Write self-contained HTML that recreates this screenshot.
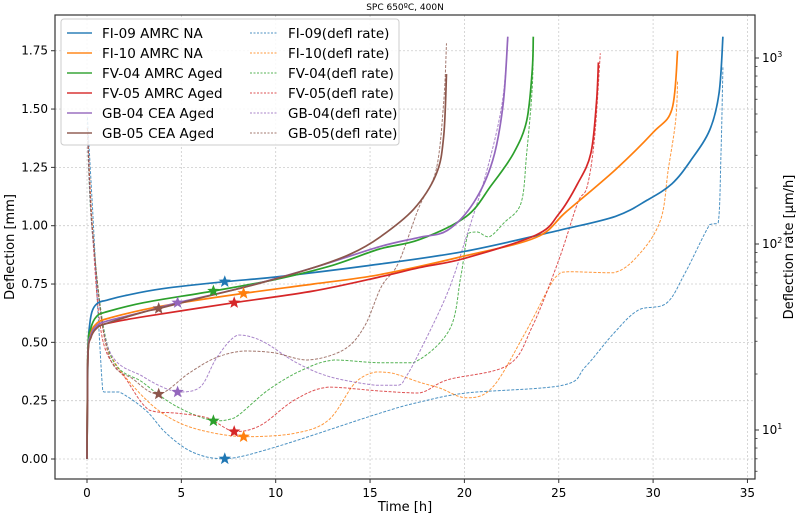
<!DOCTYPE html>
<html><head><meta charset="utf-8"><style>
html,body{margin:0;padding:0;background:#fff;}
svg{display:block;font-family:"DejaVu Sans","Liberation Sans",sans-serif;}
</style></head><body>
<svg id="chart" width="803" height="516" viewBox="0 0 803 516" xmlns="http://www.w3.org/2000/svg">
<text x="405" y="10" font-size="9" text-anchor="middle" fill="#000">SPC 650ºC, 400N</text>
<g id="grid"></g><g id="axes"></g><g id="series"></g><g id="stars"></g>
<rect x="55" y="15" width="700" height="464" fill="none" stroke="#333" stroke-width="1.2"/>
<text x="405" y="511" font-size="13" text-anchor="middle">Time [h]</text>
<text x="0" y="0" font-size="13" text-anchor="middle" transform="translate(14,247) rotate(-90)">Deflection [mm]</text>
<text x="0" y="0" font-size="13" text-anchor="middle" transform="translate(793,247) rotate(-90)">Deflection rate [µm/h]</text>
<g id="legend"></g>
</svg>
<script>
const NS="http://www.w3.org/2000/svg";
const xTicks=[0,5,10,15,20,25,30,35];
const yTicks=[0,0.25,0.5,0.75,1.0,1.25,1.5,1.75];
const yTickLabels=["0.00","0.25","0.50","0.75","1.00","1.25","1.50","1.75"];
const rateMajor=[10,100,1000];
const seriesNames=["FI-09 AMRC NA","FI-10 AMRC NA","FV-04 AMRC Aged","FV-05 AMRC Aged","GB-04 CEA Aged","GB-05 CEA Aged"];
const rateNames=["FI-09(defl rate)","FI-10(defl rate)","FV-04(defl rate)","FV-05(defl rate)","GB-04(defl rate)","GB-05(defl rate)"];
const colors=["#1f77b4","#ff7f0e","#2ca02c","#d62728","#9467bd","#8c564b"];
const defFI09=[[0,0],[0.05,0.45],[0.15,0.58],[0.3,0.64],[0.6,0.67],[1,0.68],[2,0.70],[4,0.73],[7.3,0.76],[10,0.78],[15,0.83],[20,0.89],[25,0.98],[28,1.04],[29.7,1.11],[31,1.18],[32,1.28],[33,1.41],[33.5,1.57],[33.7,1.81]];
const defFI10=[[0,0],[0.05,0.45],[0.2,0.54],[0.5,0.58],[1,0.60],[3,0.64],[5,0.67],[8.3,0.71],[12,0.75],[15.5,0.79],[20,0.87],[23.8,0.95],[25.4,1.06],[28,1.24],[30,1.40],[31,1.50],[31.3,1.75]];
const defFV04=[[0,0],[0.05,0.47],[0.2,0.56],[0.5,0.61],[1,0.63],[3,0.67],[6.7,0.72],[10,0.77],[13,0.83],[15.5,0.90],[17.6,0.94],[20.1,1.04],[21.4,1.17],[22.6,1.31],[23.3,1.45],[23.6,1.67],[23.65,1.81]];
const defFV05=[[0,0],[0.05,0.44],[0.2,0.52],[0.5,0.56],[1,0.58],[3,0.61],[7.8,0.67],[12,0.72],[15.5,0.78],[17.6,0.82],[20,0.86],[23.8,0.96],[25,1.05],[26,1.18],[26.7,1.31],[27,1.53],[27.1,1.70]];
const defGB04=[[0,0],[0.05,0.45],[0.2,0.53],[0.5,0.57],[1,0.59],[3,0.63],[4.8,0.67],[8,0.73],[12,0.82],[15.5,0.91],[17.6,0.95],[19.1,0.98],[20.5,1.10],[21.5,1.28],[22.05,1.52],[22.3,1.81]];
const defGB05=[[0,0],[0.05,0.44],[0.2,0.52],[0.5,0.56],[1,0.58],[3,0.63],[3.8,0.645],[6,0.69],[9,0.75],[12,0.82],[14,0.88],[15.5,0.95],[17.3,1.07],[18.5,1.22],[18.9,1.38],[19.05,1.65]];
const rateFI09=[[0.02,480],[0.3,150],[0.6,40],[0.8,18],[0.9,16],[1.7,16],[3.1,12.8],[4.2,9.6],[5.6,7.6],[7.3,7.0],[10,8.1],[15.5,12.3],[17.6,14.1],[20.1,15.8],[25.2,17.4],[26.4,21.8],[27.9,33],[29.2,44],[30.7,48],[31.7,70],[33,127],[33.45,130],[33.6,308],[33.7,890]];
const rateFI10=[[0.02,420],[0.3,120],[0.85,34.5],[1.5,22.9],[3,15],[4.4,11.6],[6,10],[8.3,9.2],[11,9.6],[12.8,11.3],[14.2,17.9],[15.3,20.5],[16.2,20.2],[17.6,18.1],[18.7,16.8],[20.1,14.9],[21.5,17],[23.2,33],[24.8,66],[25.5,71],[27.9,70],[29.3,89],[30.4,135],[30.8,250],[31.2,464],[31.3,760]];
const rateFV04=[[0.02,400],[0.3,110],[1.2,26],[3,17.9],[4.8,13.3],[6.7,11.2],[7.8,11.6],[9.6,16.4],[11.4,21],[13.1,23.8],[15.4,23],[17.3,23],[19.2,34.5],[19.8,66],[20.2,114],[20.7,116],[21.3,109],[22.1,130],[23,166],[23.3,308],[23.6,700],[23.65,1290]];
const rateFV05=[[0.02,420],[0.3,110],[0.85,30],[2.1,18.6],[3.3,12.8],[4.8,12.3],[6.4,11.6],[7.8,9.8],[9.2,10.6],[11,14.5],[12.8,17],[15.5,16.2],[17.6,15.8],[19.1,18.6],[22.3,22.3],[23.6,36],[25,82],[26,166],[26.5,203],[26.9,374],[27.2,1060]];
const rateGB04=[[0.02,400],[0.3,110],[1.1,28],[3,19.3],[4.8,16],[6,17],[6.9,24.7],[8,32.4],[9.3,30],[11.1,23],[12.9,19.3],[15.3,17.4],[16.5,17.4],[16.9,19.3],[17.6,26],[19.1,54.5],[20.1,109],[21.2,250],[22,570],[22.3,1260]];
const rateGB05=[[0.02,420],[0.3,115],[1.1,26.3],[2.5,18.6],[3.8,15.6],[5.4,20.2],[6.8,24.4],[8.3,26.6],[9.9,26],[11.7,23.8],[13.6,27],[14.7,36],[15.6,59],[16.5,79],[17.6,158],[18.5,250],[18.9,570],[19.05,1200]];
const starDefl=[[7.3,0.76],[8.3,0.71],[6.7,0.72],[7.8,0.67],[4.8,0.67],[3.8,0.645]];
const starRate=[[7.3,7.0],[8.3,9.2],[6.7,11.2],[7.8,9.8],[4.8,16.0],[3.8,15.6]];

const X=t=>87+18.87*t;
const Y=d=>459-233.3*d;
const YR=r=>430-186*Math.log10(r/10);
function mk(tag,attrs,parent){const e=document.createElementNS(NS,tag);for(const k in attrs)e.setAttribute(k,attrs[k]);parent.appendChild(e);return e;}
function smooth(pts){
  let d='M'+pts[0][0].toFixed(1)+','+pts[0][1].toFixed(1);
  const cl=(v,a,b)=>Math.max(Math.min(a,b),Math.min(Math.max(a,b),v));
  for(let i=0;i<pts.length-1;i++){
    const p0=pts[i-1]||pts[i],p1=pts[i],p2=pts[i+1],p3=pts[i+2]||p2;
    let c1x=p1[0]+(p2[0]-p0[0])/6,c1y=p1[1]+(p2[1]-p0[1])/6;
    let c2x=p2[0]-(p3[0]-p1[0])/6,c2y=p2[1]-(p3[1]-p1[1])/6;
    c1x=cl(c1x,p1[0],p2[0]);c2x=cl(c2x,p1[0],p2[0]);
    c1y=cl(c1y,p1[1],p2[1]);c2y=cl(c2y,p1[1],p2[1]);
    d+=' C'+c1x.toFixed(1)+','+c1y.toFixed(1)+' '+c2x.toFixed(1)+','+c2y.toFixed(1)+' '+p2[0].toFixed(1)+','+p2[1].toFixed(1);
  }
  return d;
}
const grid=document.getElementById('grid'),axes=document.getElementById('axes'),ser=document.getElementById('series'),st=document.getElementById('stars'),leg=document.getElementById('legend');
xTicks.forEach(t=>{
  const g=mk('line',{x1:X(t),x2:X(t),y1:15,y2:479,stroke:'#ccc','stroke-width':0.8,'stroke-dasharray':'2,2'},grid);
  
  
  const k=mk('line',{x1:X(t),x2:X(t),y1:479,y2:483,stroke:'#333'},axes);
  
  
  const l=mk('text',{x:X(t),y:497,'font-size':12,'text-anchor':'middle'},axes);l.textContent=t;
  
  
});
yTicks.forEach((v,i)=>{
  const g=mk('line',{x1:55,x2:755,y1:Y(v),y2:Y(v),stroke:'#ccc','stroke-width':0.8,'stroke-dasharray':'2,2'},grid);
  
  
  const k=mk('line',{x1:51,x2:55,y1:Y(v),y2:Y(v),stroke:'#333'},axes);
  
  
  const l=mk('text',{x:48,y:Y(v)+4,'font-size':12,'text-anchor':'end'},axes);l.textContent=yTickLabels[i];
  
  
});
rateMajor.forEach((r,i)=>{
  const k=mk('line',{x1:755,x2:759,y1:YR(r),y2:YR(r),stroke:'#333'},axes);
  
  
  const l=mk('text',{x:762,y:YR(r)+4,'font-size':12},axes);
  l.innerHTML='10<tspan dy="-5" font-size="8">'+(i+1)+'</tspan>';
  
  
});
for(let dec=1;dec<=1000;dec*=10){for(let m=2;m<=9;m++){const r=dec*m;const y=YR(r);if(y<15||y>479)continue;
  const k=mk('line',{x1:755,x2:757.5,y1:y,y2:y,stroke:'#333','stroke-width':0.8},axes);
  
  }}
const defl=[defFI09,defFI10,defFV04,defFV05,defGB04,defGB05];
const rates=[rateFI09,rateFI10,rateFV04,rateFV05,rateGB04,rateGB05];
const ids=['fi09','fi10','fv04','fv05','gb04','gb05'];
rates.forEach((s,i)=>{
  const p=mk('path',{d:smooth(s.map(q=>[X(q[0]),YR(q[1])])),fill:'none',stroke:colors[i],'stroke-width':1,'stroke-dasharray':'3,1.5','stroke-opacity':0.8},ser);
  
  
});
defl.forEach((s,i)=>{
  const p=mk('path',{d:smooth(s.map(q=>[X(q[0]),Y(q[1])])),fill:'none',stroke:colors[i],'stroke-width':1.7,'stroke-linejoin':'round'},ser);
  
  
});
function star(cx,cy,r){let pts=[];for(let k=0;k<10;k++){const a=-Math.PI/2+k*Math.PI/5;const rr=k%2?r*0.42:r;pts.push((cx+rr*Math.cos(a)).toFixed(1)+','+(cy+rr*Math.sin(a)).toFixed(1));}return pts.join(' ');}
starDefl.forEach((q,i)=>{
  const s=mk('polygon',{points:star(X(q[0]),Y(q[1]),6.5),fill:colors[i]},st);
  
  
});
starRate.forEach((q,i)=>{
  const s=mk('polygon',{points:star(X(q[0]),YR(q[1]),6.5),fill:colors[i]},st);
  
  
});
const box=mk('rect',{x:61,y:19,width:338,height:126,rx:3,fill:'#fff','fill-opacity':0.85,stroke:'#ccc'},leg);


seriesNames.forEach((n,i)=>{
  const y=33+i*20;
  const e=mk('line',{x1:67,x2:92,y1:y,y2:y,stroke:colors[i],'stroke-width':1.7,'stroke-opacity':0.8},leg);
  
  
  const t=mk('text',{x:102,y:y+5,'font-size':13.5},leg);t.textContent=n;
  
  
  const e2=mk('line',{x1:250,x2:277,y1:y,y2:y,stroke:colors[i],'stroke-width':1,'stroke-dasharray':'2,1.5','stroke-opacity':0.8},leg);
  
  
  const t2=mk('text',{x:288,y:y+5,'font-size':13.5},leg);t2.textContent=rateNames[i];
  
  
});
</script>
</body></html>
